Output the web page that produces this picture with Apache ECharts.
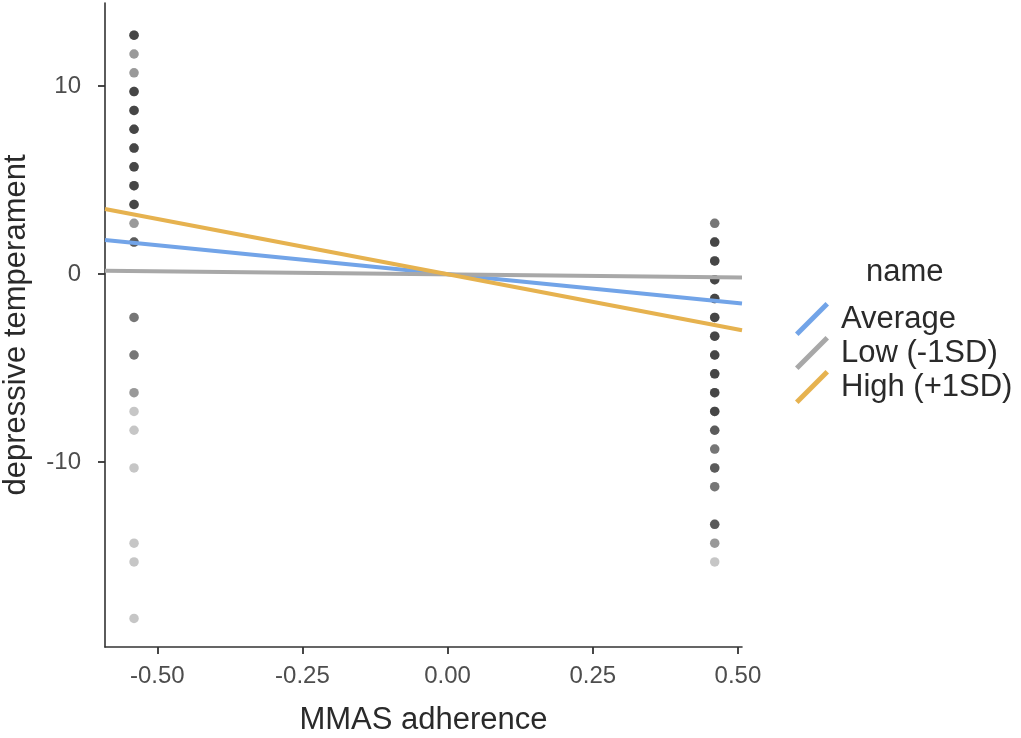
<!DOCTYPE html>
<html>
<head>
<meta charset="utf-8">
<script src="https://cdn.jsdelivr.net/npm/echarts@6/dist/echarts.min.js"></script>
<style>
  html, body { margin: 0; padding: 0; background: #fff; }
  #main { width: 1021px; height: 738px; }
</style>
</head>
<body>
<div id="main"></div>
<script>
// 数据
const groupX = [-0.54, 0.46];
const leftVals = [12.7, 11.7, 10.7, 9.7, 8.7, 7.7, 6.7, 5.7, 4.7, 3.7, 2.7, 1.7, -2.3, -4.3, -6.3, -7.3, -8.3, -10.3, -14.3, -15.3, -18.3];
const leftCounts = [5, 2, 2, 5, 5, 5, 5, 5, 5, 5, 2, 4, 3, 3, 2, 1, 1, 1, 1, 1, 1];
const rightVals = [2.7, 1.7, 0.7, -0.3, -1.3, -2.3, -3.3, -4.3, -5.3, -6.3, -7.3, -8.3, -9.3, -10.3, -11.3, -13.3, -14.3, -15.3];
const rightCounts = [3, 5, 5, 5, 5, 5, 5, 5, 5, 5, 5, 4, 3, 4, 3, 4, 2, 1];

const lineNames = ['Average', 'Low (-1SD)', 'High (+1SD)'];
const lineX = [-0.59, 0.507];
const lineStartY = [1.81, 0.18, 3.46];
const lineEndY = [-1.56, -0.18, -2.98];
const lineColors = ['#72A4E8', '#A8A8A8', '#E6B24F'];

const xTicks = [-0.5, -0.25, 0, 0.25, 0.5];
const yTicks = [-10, 0, 10];

// 每个重复点叠加绘制，透明度自然累积
function expand(x, vals, counts) {
    let out = [];
    vals.forEach((v, i) => {
        for (let k = 0; k < counts[i]; k++) out.push([x, v]);
    });
    return out;
}
let pointData = expand(groupX[0], leftVals, leftCounts).concat(expand(groupX[1], rightVals, rightCounts));

const font = "'Liberation Sans', Arial, sans-serif";
const axisColor = '#333333';

let series = [{
    type: 'scatter',
    data: pointData,
    symbolSize: 9.5,
    itemStyle: {color: 'rgba(0,0,0,0.28)'},
    silent: true,
    z: 1
}];
lineNames.forEach((name, i) => {
    series.push({
        name: name,
        type: 'line',
        data: [[lineX[0], lineStartY[i]], [lineX[1], lineEndY[i]]],
        showSymbol: false,
        lineStyle: {color: lineColors[i], width: 4},
        itemStyle: {color: lineColors[i]},
        z: 3
    });
});

let option = {
    animation: false,
    backgroundColor: '#fff',
    textStyle: {fontFamily: font},
    grid: {left: 105, right: 279, top: 3, bottom: 91, containLabel: false, outerBoundsMode: 'none'},
    title: {
        text: 'name', left: 861, top: 252,
        textStyle: {fontFamily: font, fontSize: 31, fontWeight: 'normal', color: '#2a2a2a'}
    },
    legend: {
        data: lineNames,
        orient: 'vertical',
        left: 790, top: 297,
        itemWidth: 34, itemHeight: 34, itemGap: 0,
        icon: 'path://M0,30.5 L30.5,0 L34,3.5 L3.5,34 Z',
        textStyle: {fontFamily: font, fontSize: 31, color: '#2a2a2a', padding: [0, 0, 0, 7]}
    },
    xAxis: {
        type: 'value', min: lineX[0], max: lineX[1],
        name: 'MMAS adherence', nameLocation: 'middle', nameGap: 58,
        nameTextStyle: {fontFamily: font, fontSize: 31, color: '#2a2a2a'},
        splitLine: {show: false},
        axisLine: {onZero: false, lineStyle: {color: axisColor, width: 1.6}},
        axisTick: {customValues: xTicks, length: 7, lineStyle: {color: axisColor, width: 1.8}},
        axisLabel: {
            customValues: xTicks, fontSize: 24, color: '#4d4d4d', margin: 17,
            formatter: v => v.toFixed(2)
        }
    },
    yAxis: {
        type: 'value', min: -19.82, max: 14.41,
        name: 'depressive temperament', nameLocation: 'middle', nameGap: 73,
        nameTextStyle: {fontFamily: font, fontSize: 31, color: '#2a2a2a'},
        splitLine: {show: false},
        axisLine: {onZero: false, lineStyle: {color: axisColor, width: 1.6}},
        axisTick: {customValues: yTicks, length: 7, lineStyle: {color: axisColor, width: 1.8}},
        axisLabel: {customValues: yTicks, fontSize: 24, color: '#4d4d4d', margin: 24}
    },
    series: series
};

let myChart = echarts.init(document.getElementById('main'));
myChart.setOption(option);
</script>
</body>
</html>
